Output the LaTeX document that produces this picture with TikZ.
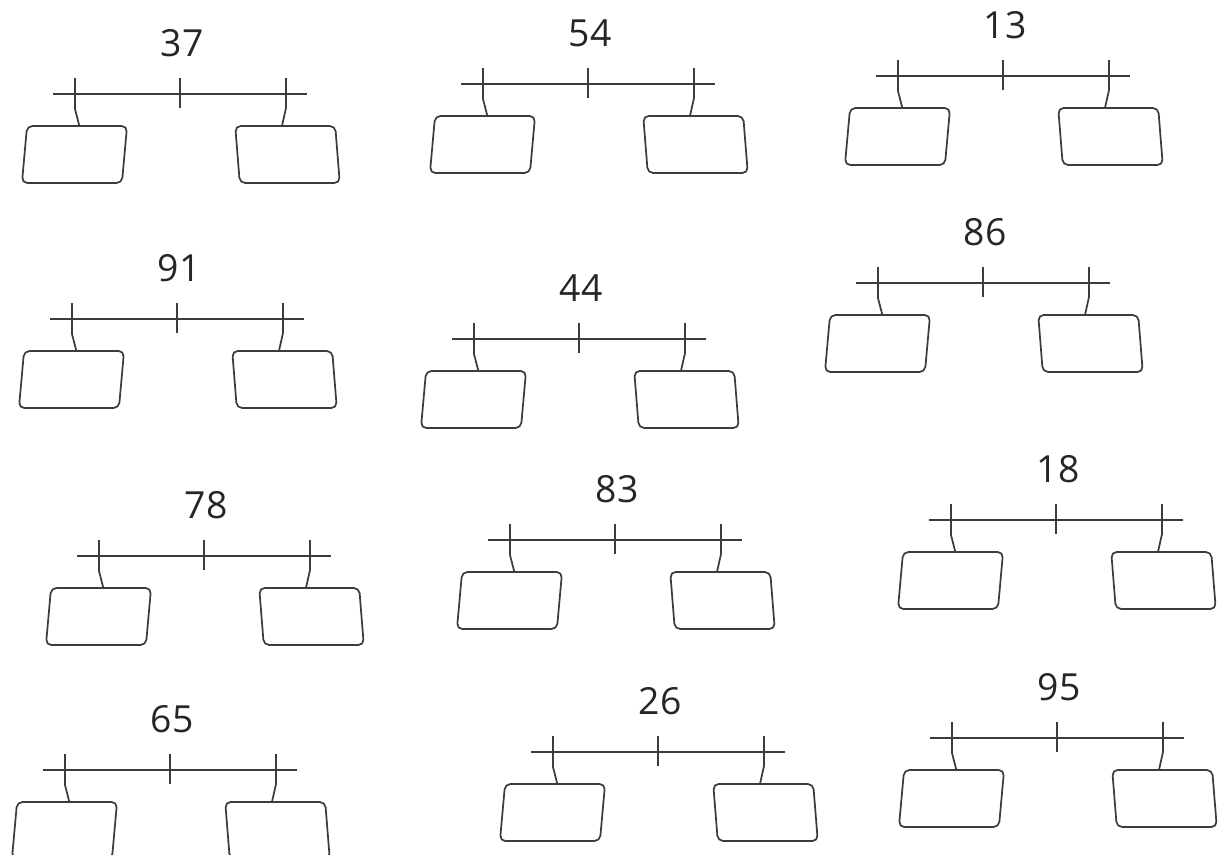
\documentclass[tikz,border=0pt]{standalone}
\usepackage{fontspec}
\setmainfont{Open Sans}
\usepackage{tikz}
\usetikzlibrary{calc}
\definecolor{inkgray}{HTML}{3C3C3C}
\tikzset{
  bondline/.style={draw=inkgray, line width=1.3pt},
  partbox/.style={draw=inkgray, line width=1.3pt, rounded corners=4pt,
    minimum width=75pt, minimum height=42.75pt, inner sep=0pt},
  numlabel/.style={text=black!85, font=\fontsize{28}{30}\selectfont, inner sep=0pt}
}
% one number bond: name, x of middle tick, y of the line, number
\newcommand{\numbond}[4]{%
  \node[numlabel] (#1-num) at (#2+2,#3-51) {#4};
  \coordinate (#1-a) at (#2-127,#3);
  \coordinate (#1-b) at (#2+127,#3);
  \draw[bondline] (#1-a) -- (#1-b);
  \coordinate (#1-lt) at (#2-105,#3-16);
  \coordinate (#1-mt) at (#2,#3-16);
  \coordinate (#1-rt) at (#2+106,#3-16);
  \node[partbox, xslant=0.09] (#1-l) at (#2-105.5,#3+60.5) {};
  \node[partbox, xslant=-0.08] (#1-r) at (#2+107.5,#3+60.5) {};
  \draw[bondline] (#1-mt) -- ++(0,30);
  \draw[bondline] (#1-lt) -- ++(0,31) -- ([xshift=1.5pt]#1-l.north);
  \draw[bondline] (#1-rt) -- ++(0,30) -- ([xshift=-2.25pt]#1-r.north);
}
\begin{document}
\begin{tikzpicture}[x=0.75pt, y=-0.75pt]
			\useasboundingbox (0,0) rectangle (1218,854);
			\clip (0,0) rectangle (1218,854);
			\numbond{b37}{180}{94}{37}
			\numbond{b54}{588}{84}{54}
			\numbond{b13}{1003}{76}{13}
			\numbond{b91}{177}{319}{91}
			\numbond{b44}{579}{339}{44}
			\numbond{b86}{983}{283}{86}
			\numbond{b78}{204}{556}{78}
			\numbond{b83}{615}{540}{83}
			\numbond{b18}{1056}{520}{18}
			\numbond{b65}{170}{770}{65}
			\numbond{b26}{658}{752}{26}
			\numbond{b95}{1057}{738}{95}
		\end{tikzpicture}
\end{document}
